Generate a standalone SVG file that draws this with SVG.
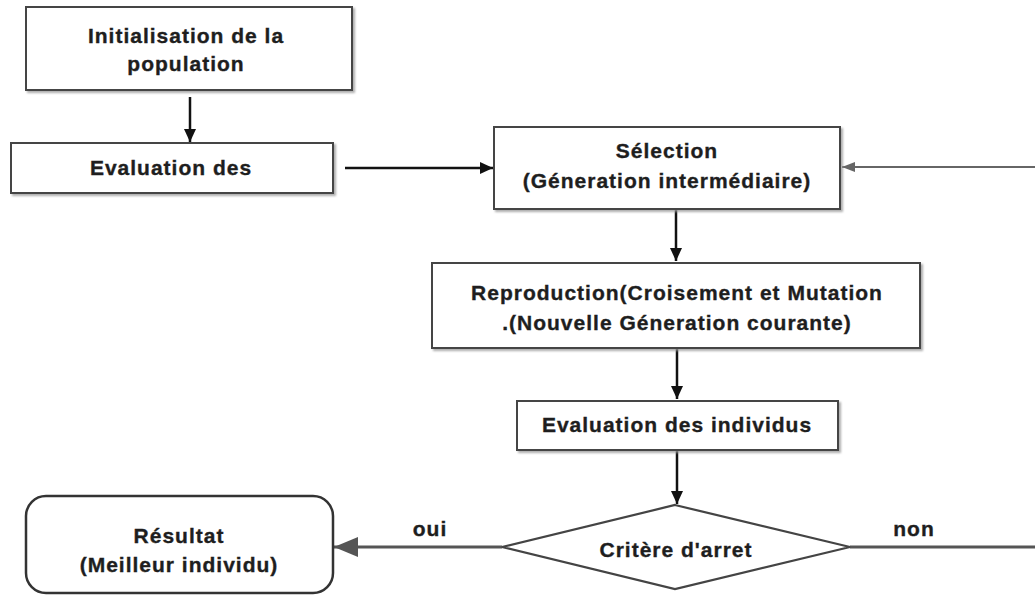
<svg xmlns="http://www.w3.org/2000/svg" width="1035" height="595" viewBox="0 0 1035 595">
  <style>
    .box { fill: #ffffff; stroke: #444444; stroke-width: 2; filter: url(#shade); }
    .term { fill: #ffffff; stroke: #333333; stroke-width: 2.5; }
    .dec { fill: #ffffff; stroke: #444444; stroke-width: 2.2; }
    .lbl { font-family: "Liberation Sans", Arial, sans-serif; font-weight: bold; font-size: 21px; letter-spacing: 1px; fill: #1e1e1e; stroke: #1e1e1e; stroke-width: 0.35; text-anchor: middle; }
    .flow { fill: none; stroke: #111111; stroke-width: 2.5; }
    .grey { fill: none; stroke: #555555; stroke-width: 3; }
    .thin { fill: none; stroke: #666666; stroke-width: 2; }
  </style>
  <defs>
    <filter id="shade" x="-5%" y="-10%" width="110%" height="130%">
      <feDropShadow dx="2" dy="2" stdDeviation="1" flood-color="#999999" flood-opacity="0.8"/>
    </filter>
    <marker id="tip" markerUnits="userSpaceOnUse" markerWidth="13" markerHeight="12" refX="13" refY="6" orient="auto">
      <path d="M0,0 L13,6 L0,12 z" fill="#111111"/>
    </marker>
    <marker id="tipGrey" markerUnits="userSpaceOnUse" markerWidth="24" markerHeight="20" refX="24" refY="10" orient="auto">
      <path d="M0,0 L24,10 L0,20 z" fill="#555555"/>
    </marker>
    <marker id="tipThin" markerUnits="userSpaceOnUse" markerWidth="13" markerHeight="10" refX="13" refY="5" orient="auto">
      <path d="M0,0 L13,5 L0,10 z" fill="#666666"/>
    </marker>
  </defs>

  <!-- connectors -->
  <g id="connectors">
    <line class="flow" x1="190" y1="97" x2="190" y2="142" marker-end="url(#tip)"/>
    <line class="flow" x1="345" y1="168" x2="493" y2="168" marker-end="url(#tip)"/>
    <line class="flow" x1="676" y1="210" x2="676" y2="261" marker-end="url(#tip)"/>
    <line class="flow" x1="677" y1="349" x2="677" y2="399" marker-end="url(#tip)"/>
    <line class="flow" x1="677" y1="451" x2="677" y2="504" marker-end="url(#tip)"/>
    <line class="grey" x1="502" y1="547" x2="334" y2="547" marker-end="url(#tipGrey)"/>
    <line class="grey" x1="850" y1="547" x2="1035" y2="547"/>
    <line class="thin" x1="1035" y1="167" x2="842" y2="167" marker-end="url(#tipThin)"/>
    <text class="lbl" x="430" y="536">oui</text>
    <text class="lbl" x="914" y="536">non</text>
  </g>

  <g id="init">
    <rect class="box" x="26" y="7" width="326" height="83"/>
    <text class="lbl" x="186" y="43">Initialisation de la</text>
    <text class="lbl" x="186" y="71">population</text>
  </g>

  <g id="eval1">
    <rect class="box" x="11" y="143" width="322" height="50"/>
    <text class="lbl" x="171" y="175">Evaluation des</text>
  </g>

  <g id="selection">
    <rect class="box" x="494" y="127" width="346" height="82"/>
    <text class="lbl" x="667" y="158">Sélection</text>
    <text class="lbl" x="667" y="188">(Géneration intermédiaire)</text>
  </g>

  <g id="reproduction">
    <rect class="box" x="432" y="263" width="488" height="85"/>
    <text class="lbl" x="677" y="300">Reproduction(Croisement et Mutation</text>
    <text class="lbl" x="677" y="330">.(Nouvelle Géneration courante)</text>
  </g>

  <g id="eval2">
    <rect class="box" x="517" y="401" width="321" height="49"/>
    <text class="lbl" x="677" y="432">Evaluation des individus</text>
  </g>

  <g id="critere">
    <polygon class="dec" points="675,505 850,547 675,589 502,547"/>
    <text class="lbl" x="676" y="557">Critère d'arret</text>
  </g>

  <g id="resultat">
    <rect class="term" x="26" y="496" width="307" height="97" rx="20" ry="20"/>
    <text class="lbl" x="179" y="543">Résultat</text>
    <text class="lbl" x="179" y="572">(Meilleur individu)</text>
  </g>
</svg>
